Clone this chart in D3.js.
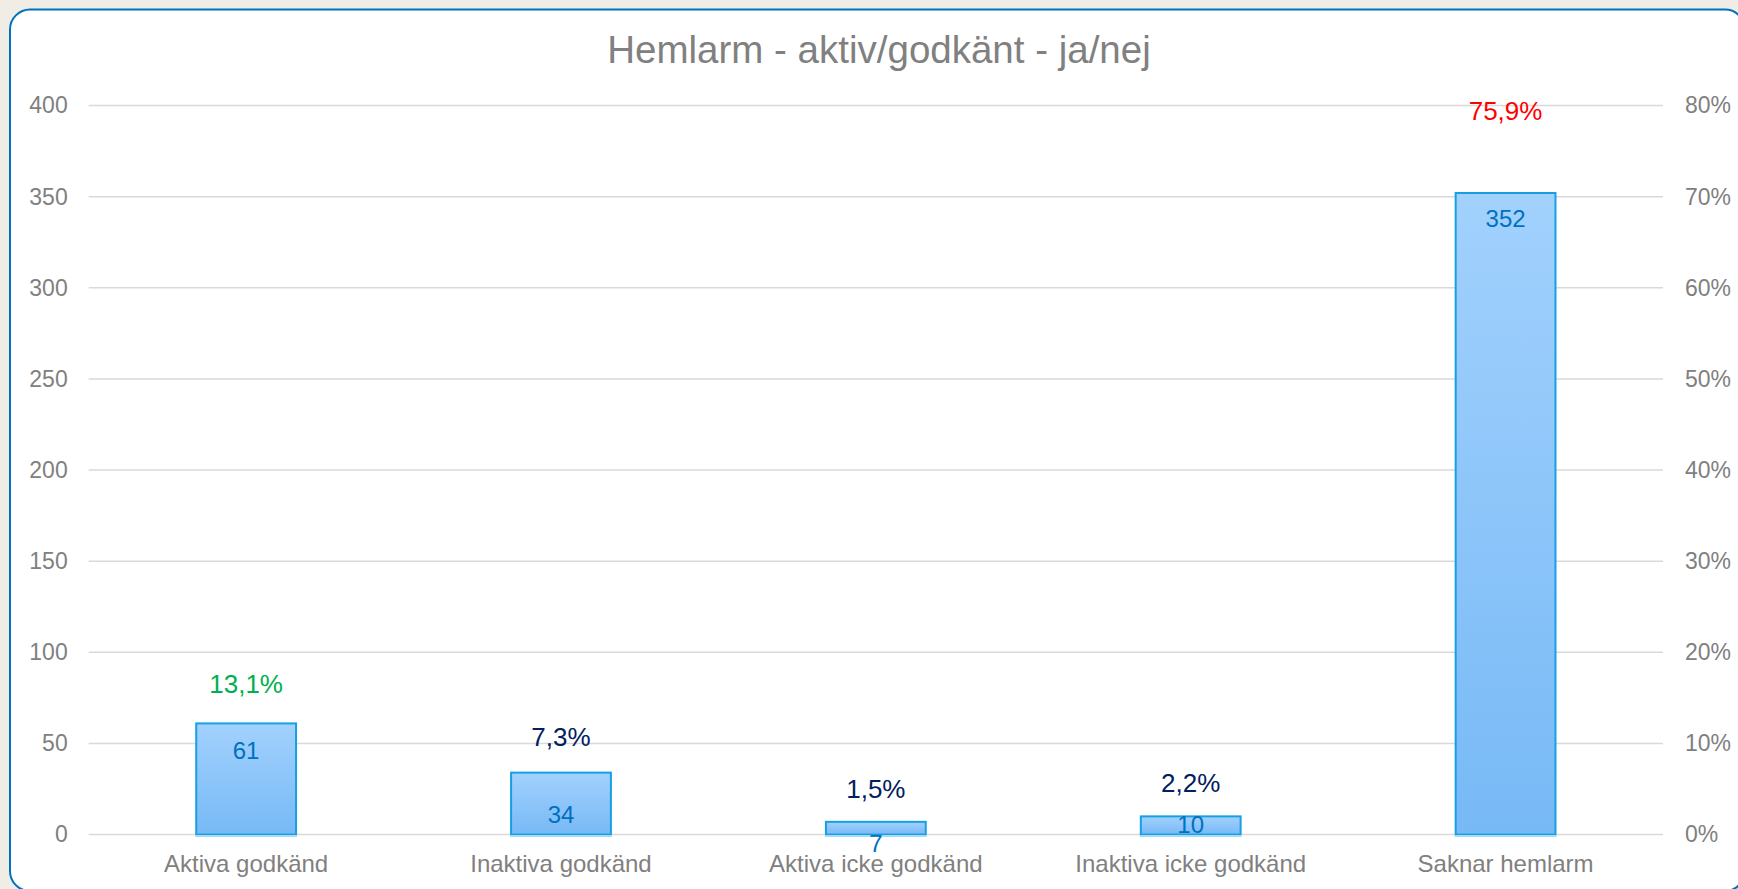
<!DOCTYPE html>
<html>
<head>
<meta charset="utf-8">
<script src="https://cdn.jsdelivr.net/npm/d3@7"></script>
<style>
  html, body { margin: 0; padding: 0; background: #f0ece6; overflow: hidden; }
  text { font-family: "Liberation Sans", Arial, sans-serif; }
</style>
</head>
<body>
<script>

// chart data
var categories = ["Aktiva godkänd", "Inaktiva godkänd", "Aktiva icke godkänd", "Inaktiva icke godkänd", "Saknar hemlarm"];
var counts = [61, 34, 7, 10, 352];
var percents = [13.1, 7.3, 1.5, 2.2, 75.9];
var countTicks = [0, 50, 100, 150, 200, 250, 300, 350, 400];
var percentTicks = [0, 10, 20, 30, 40, 50, 60, 70, 80];

// label colours for the percentages (first green, last red, rest navy)
var percentColors = ["#00b050", "#002060", "#002060", "#002060", "#ff0000"];

// the count labels were nudged by hand in the original, offset from bar top
var countLabelDy = [36, 50, 30, 17, 34];

var w = 1738;
var h = 889;
var margin = {left: 88.7, right: 1663, top: 105.5, bottom: 834.6};

var svg = d3.select("body")
            .append("svg")
            .attr("width", w)
            .attr("height", h);

// white card with rounded blue border (runs off right and bottom edge)
svg.append("rect")
   .attr("x", 10)
   .attr("y", 9.5)
   .attr("width", 1735)
   .attr("height", 881.5)
   .attr("rx", 20)
   .attr("fill", "#ffffff")
   .attr("stroke", "#0070c0")
   .attr("stroke-width", 2);

// gradient for the bars
var grad = svg.append("defs")
              .append("linearGradient")
              .attr("id", "barFill")
              .attr("x1", 0).attr("y1", 0)
              .attr("x2", 0).attr("y2", 1);
grad.append("stop").attr("offset", "0%").attr("stop-color", "#a2d1fd");
grad.append("stop").attr("offset", "100%").attr("stop-color", "#77b9f6");

// scales
var xScale = d3.scaleBand()
               .domain(categories)
               .range([margin.left, margin.right])
               .paddingInner(0.683)
               .paddingOuter(0.3415);

var yScale = d3.scaleLinear()
               .domain([0, 400])
               .range([margin.bottom, margin.top]);

var pScale = d3.scaleLinear()
               .domain([0, 80])
               .range([margin.bottom, margin.top]);

// title
svg.append("text")
   .attr("x", 879)
   .attr("y", 63)
   .attr("text-anchor", "middle")
   .attr("font-size", 38.5)
   .attr("fill", "#808080")
   .text("Hemlarm - aktiv/godkänt - ja/nej");

// gridlines
svg.append("g")
   .selectAll("line")
   .data(countTicks)
   .enter()
   .append("line")
   .attr("x1", margin.left)
   .attr("x2", margin.right)
   .attr("y1", d => yScale(d))
   .attr("y2", d => yScale(d))
   .attr("stroke", "#d9d9d9")
   .attr("stroke-width", 1.5);

// left axis
var yAxis = d3.axisLeft(yScale)
              .tickValues(countTicks)
              .tickSize(0)
              .tickPadding(21);

var gLeft = svg.append("g")
               .attr("transform", "translate(" + margin.left + ",0)")
               .call(yAxis);

// right axis with percentages
var pAxis = d3.axisRight(pScale)
              .tickValues(percentTicks)
              .tickSize(0)
              .tickPadding(22)
              .tickFormat(d => d + "%");

var gRight = svg.append("g")
                .attr("transform", "translate(" + margin.right + ",0)")
                .call(pAxis);

// bottom axis with category names
var xAxis = d3.axisBottom(xScale)
              .tickSize(0)
              .tickPadding(20);

var gBottom = svg.append("g")
                 .attr("transform", "translate(0," + margin.bottom + ")")
                 .call(xAxis);

[gLeft, gRight, gBottom].forEach(function(g) {
  g.select(".domain").remove();
  g.selectAll("text")
   .attr("fill", "#808080")
   .attr("font-family", "'Liberation Sans', Arial, sans-serif");
});
gLeft.selectAll("text").attr("font-size", 23);
gRight.selectAll("text").attr("font-size", 23);
gBottom.selectAll("text").attr("font-size", 24);

// bars
svg.selectAll("rect.bar")
   .data(counts)
   .enter()
   .append("rect")
   .attr("class", "bar")
   .attr("x", (d, i) => xScale(categories[i]))
   .attr("y", d => yScale(d))
   .attr("width", xScale.bandwidth())
   .attr("height", d => yScale(0) - yScale(d))
   .attr("fill", "url(#barFill)")
   .attr("stroke", "#16a0e2")
   .attr("stroke-width", 2);

// light strip at the bar bases
svg.selectAll("line.base")
   .data(counts)
   .enter()
   .append("line")
   .attr("class", "base")
   .attr("x1", (d, i) => xScale(categories[i]) - 1)
   .attr("x2", (d, i) => xScale(categories[i]) + xScale.bandwidth() + 1)
   .attr("y1", yScale(0) + 1.5)
   .attr("y2", yScale(0) + 1.5)
   .attr("stroke", "#a9dbf5")
   .attr("stroke-width", 2);

// count labels
svg.selectAll("text.count")
   .data(counts)
   .enter()
   .append("text")
   .attr("class", "count")
   .attr("x", (d, i) => xScale(categories[i]) + xScale.bandwidth() / 2)
   .attr("y", (d, i) => yScale(d) + countLabelDy[i])
   .attr("text-anchor", "middle")
   .attr("font-size", 24)
   .attr("fill", "#0070c0")
   .text(d => d);

// percentage labels, placed above their value on the right axis
svg.selectAll("text.pct")
   .data(percents)
   .enter()
   .append("text")
   .attr("class", "pct")
   .attr("x", (d, i) => xScale(categories[i]) + xScale.bandwidth() / 2)
   .attr("y", d => pScale(d) - 22.5)
   .attr("text-anchor", "middle")
   .attr("font-size", 26)
   .attr("fill", (d, i) => percentColors[i])
   .text(d => d.toFixed(1).replace(".", ",") + "%");

</script>
</body>
</html>
